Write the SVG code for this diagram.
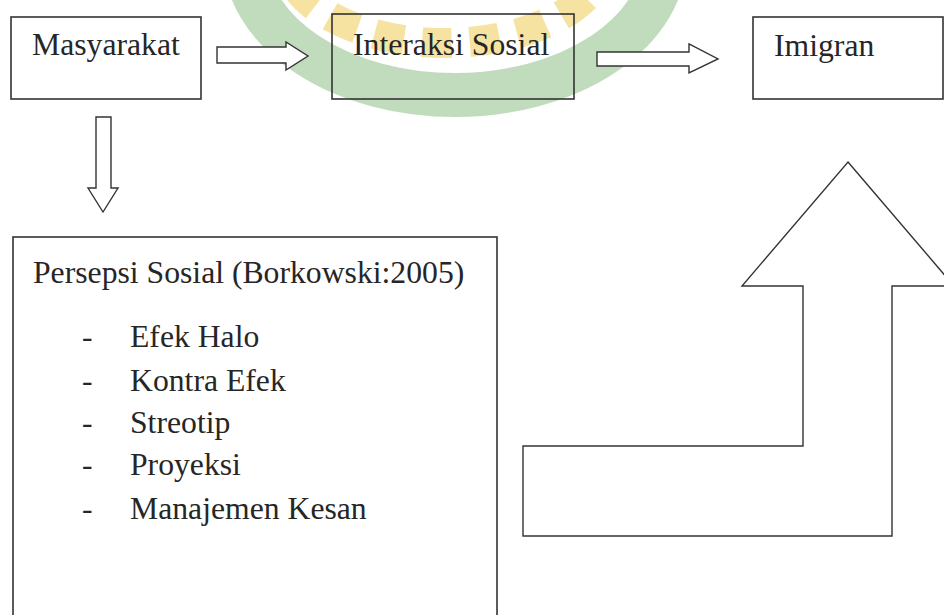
<svg xmlns="http://www.w3.org/2000/svg" width="944" height="615" viewBox="0 0 944 615">
<style>
.box{fill:none;stroke:#333;stroke-width:1.6}
.arr{fill:#fff;stroke:#333;stroke-width:1.4;stroke-linejoin:miter}
.t{font-family:"Liberation Serif","Times New Roman",serif;font-size:31.7px;fill:#262626}
</style>
<rect width="944" height="615" fill="#fff"/>
<g id="watermark">
<ellipse cx="455" cy="-45" rx="210" ry="140" fill="none" stroke="#5aa34e" stroke-width="44" opacity="0.38"/>
<ellipse cx="445" cy="-45" rx="160" ry="88" fill="none" stroke="#ecc030" stroke-width="30" stroke-dasharray="30 18" opacity="0.45"/>
</g>
<g id="connectors">
<path class="arr" d="M217,47 H286 V42 L308,56 L286,70 V63 H217 Z"/>
<path class="arr" d="M597,52 H689 V44 L718,59 L689,73 V66 H597 Z"/>
<path class="arr" d="M96,117 H111 V188 H118 L103,212 L88,188 H96 Z"/>
<path class="arr" d="M848,162 L954,286 H892 V536 H523 V446 H803 V286 H742 Z"/>
</g>
<g id="masyarakat">
<rect class="box" x="11" y="17" width="190" height="82"/>
<text class="t" x="32" y="55">Masyarakat</text>
</g>
<g id="interaksi">
<rect class="box" x="332" y="14" width="242" height="85"/>
<text class="t" x="353" y="55">Interaksi Sosial</text>
</g>
<g id="imigran">
<rect class="box" x="753" y="17" width="190" height="82"/>
<text class="t" x="774" y="56">Imigran</text>
</g>
<g id="persepsi">
<rect class="box" x="13" y="237" width="484" height="400"/>
<text class="t" x="33" y="283">Persepsi Sosial (Borkowski:2005)</text>
<text class="t" x="82" y="347">-</text><text class="t" x="130" y="347">Efek Halo</text>
<text class="t" x="82" y="391">-</text><text class="t" x="130" y="391">Kontra Efek</text>
<text class="t" x="82" y="433">-</text><text class="t" x="130" y="433">Streotip</text>
<text class="t" x="82" y="475">-</text><text class="t" x="130" y="475">Proyeksi</text>
<text class="t" x="82" y="519">-</text><text class="t" x="130" y="519">Manajemen Kesan</text>
</g>
</svg>
